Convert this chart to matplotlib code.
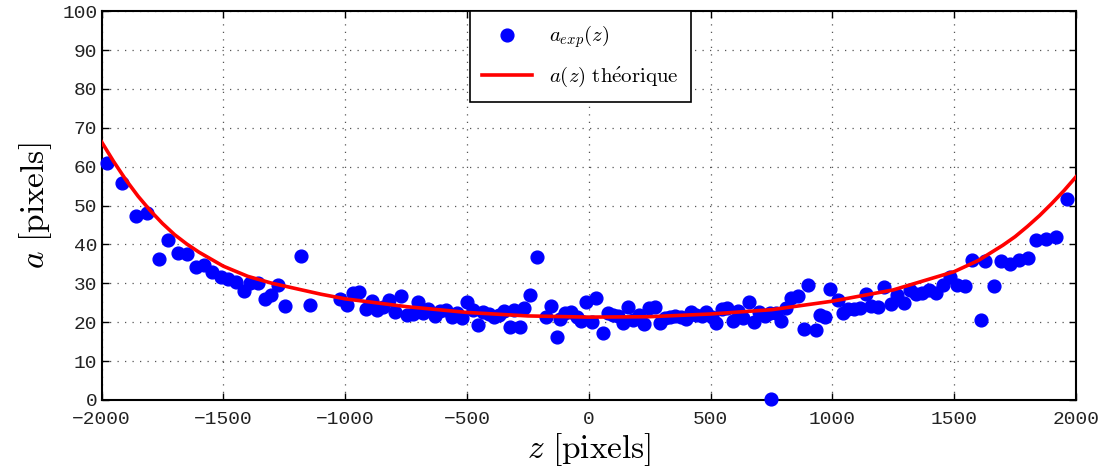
import matplotlib
matplotlib.use("Agg")
import matplotlib.pyplot as plt

plt.rcParams['mathtext.fontset'] = 'cm'

# experimental points
z_exp = [-1979, -1915, -1860, -1815, -1764, -1728, -1687, -1648, -1613, -1578,
         -1545, -1511, -1480, -1448, -1417, -1391, -1359, -1330, -1303, -1277,
         -1248, -1181, -1144, -1021, -994, -969, -942, -915, -890, -868,
         -844, -819, -796, -771, -748, -723, -703, -680, -658, -631,
         -611, -588, -563, -542, -522, -501, -474, -454, -433, -410,
         -388, -369, -347, -324, -306, -283, -265, -242, -214, -177,
         -157, -132, -119, -98, -73, -50, -32, -10, 12, 30,
         59, 77, 100, 120, 141, 162, 182, 207, 226, 248,
         271, 292, 312, 333, 353, 377, 398, 418, 439, 463,
         483, 504, 524, 545, 568, 590, 613, 634, 656, 679,
         699, 723, 743, 748, 767, 788, 808, 832, 857, 884,
         900, 931, 950, 969, 991, 1021, 1044, 1064, 1089, 1114,
         1137, 1160, 1188, 1212, 1240, 1264, 1292, 1318, 1345, 1368,
         1396, 1427, 1454, 1483, 1513, 1543, 1573, 1609, 1628, 1663,
         1694, 1731, 1765, 1801, 1836, 1877, 1918, 1961]
a_exp = [61.0, 55.7, 47.3, 48.2, 36.3, 41.1, 37.7, 37.5, 34.3, 34.8,
         32.9, 31.5, 31.2, 30.4, 27.9, 30.2, 30.2, 26.0, 27.0, 29.5,
         24.2, 37.0, 24.4, 25.9, 24.4, 27.4, 27.8, 23.3, 25.5, 23.1,
         24.0, 25.7, 22.7, 26.7, 21.8, 22.1, 25.2, 22.4, 23.3, 21.6,
         22.9, 23.1, 21.4, 22.4, 21.1, 25.3, 23.1, 19.2, 22.7, 22.1,
         21.4, 21.8, 22.9, 18.8, 23.1, 18.8, 23.6, 27.0, 36.7, 21.2,
         24.2, 16.1, 20.7, 22.3, 22.6, 21.4, 20.4, 25.2, 20.1, 26.1,
         17.1, 22.3, 21.8, 21.6, 19.9, 24.0, 20.6, 21.8, 19.5, 23.6,
         23.8, 19.9, 21.0, 21.4, 21.6, 21.4, 20.7, 22.7, 21.8, 21.6,
         22.7, 21.4, 19.9, 23.3, 23.6, 20.4, 22.9, 21.0, 25.2, 20.1,
         22.5, 21.6, 22.4, 0.3, 22.4, 20.4, 23.6, 26.1, 26.7, 18.2,
         29.6, 18.0, 21.8, 21.3, 28.5, 25.7, 22.3, 23.3, 23.3, 23.6,
         27.2, 24.2, 24.0, 29.0, 24.7, 27.0, 25.0, 28.3, 27.2, 27.5,
         28.3, 27.4, 29.6, 31.5, 29.5, 29.3, 36.0, 20.6, 35.8, 29.3,
         35.8, 35.0, 36.0, 36.5, 41.1, 41.5, 42.0, 51.8]

# theoretical curve
z_th = [-2000, -1950, -1900, -1850, -1800, -1750, -1700, -1650, -1600, -1500,
        -1400, -1300, -1200, -1100, -1000, -750, -500, -250, 0, 250,
        500, 750, 1000, 1250, 1500, 1600, 1700, 1750, 1800, 1850,
        1900, 1950, 2000]
a_th = [66.4, 61.3, 56.6, 52.4, 48.7, 45.4, 42.5, 40.1, 38.0, 34.4,
        31.8, 30.0, 28.6, 27.2, 26.0, 24.0, 22.5, 21.6, 21.3, 21.4,
        22.1, 23.2, 25.4, 28.3, 33.0, 35.9, 39.8, 42.0, 44.6, 47.4,
        50.5, 53.8, 57.4]

fig = plt.figure(figsize=(11.06, 4.67), dpi=100)
ax = fig.add_axes([0.0918, 0.1437, 0.8811, 0.8323])

ax.plot(z_exp, a_exp, 'o', color='#0000ff', ms=9.2, mec='#0000ff',
        label=r'$a_{exp}(z)$', clip_on=False, zorder=3)
ax.plot(z_th, a_th, '-', color='#ff0000', lw=2.6,
        label=r'$a(z)\ \mathrm{th\acute{e}orique}$', zorder=4)

ax.set_xlim(-2000, 2000)
ax.set_ylim(0, 100)
ax.set_xticks(range(-2000, 2001, 500))
ax.set_yticks(range(0, 101, 10))
ax.grid(True, linestyle=(0, (1, 5)), color='#555555', lw=0.9)
ax.tick_params(direction='in', length=5, width=1, top=True, right=True)
ax.tick_params(axis='x', pad=8)
ax.tick_params(axis='y', pad=3)
for lab in ax.get_xticklabels() + ax.get_yticklabels():
    lab.set_family('Liberation Mono')
    lab.set_fontsize(14)
    lab.set_color('#222222')
for s in ax.spines.values():
    s.set_linewidth(1.5)

ax.set_xlabel(r'$z\ \mathrm{[pixels]}$', fontsize=24, labelpad=2)
ax.set_ylabel(r'$a\ \mathrm{[pixels]}$', fontsize=24, labelpad=6)

leg = ax.legend(loc='upper center', bbox_to_anchor=(0.4915, 1.0), borderaxespad=0,
                numpoints=1, fontsize=15, fancybox=False, framealpha=1,
                edgecolor='black', handlelength=2.4, borderpad=0.6, labelspacing=0.7)
leg.get_frame().set_linewidth(1.2)

fig.savefig('out.png', dpi=100)
